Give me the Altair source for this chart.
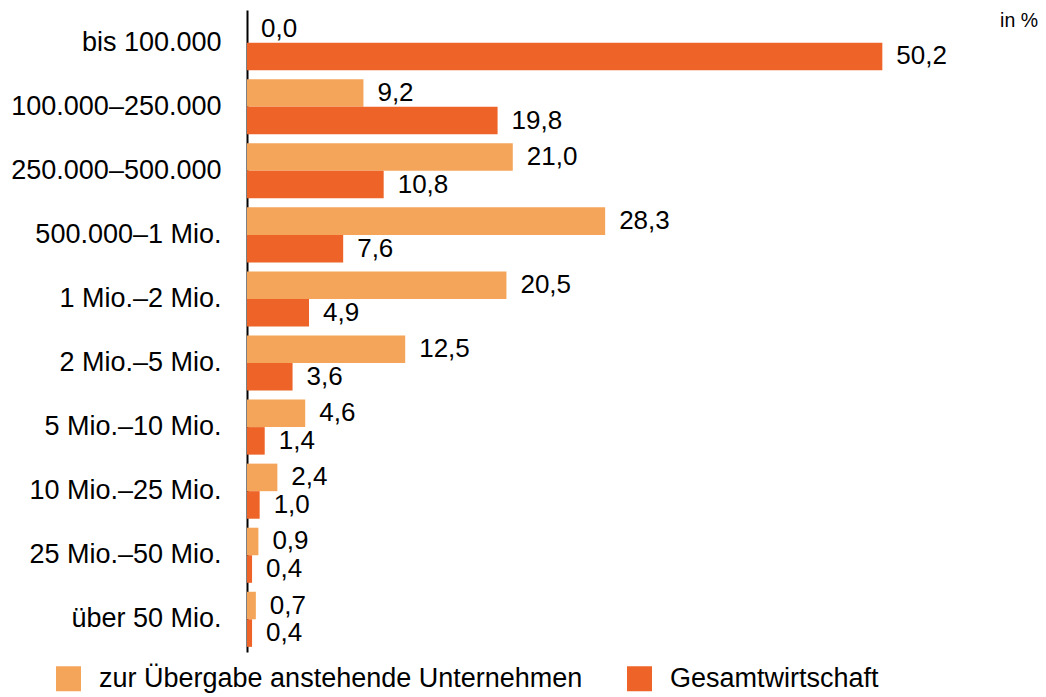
import altair as alt
import pandas as pd

categories = ["bis 100.000", "100.000–250.000", "250.000–500.000", "500.000–1 Mio.",
              "1 Mio.–2 Mio.", "2 Mio.–5 Mio.", "5 Mio.–10 Mio.", "10 Mio.–25 Mio.",
              "25 Mio.–50 Mio.", "über 50 Mio."]
series = ["zur Übergabe anstehende Unternehmen", "Gesamtwirtschaft"]
uebergabe = [0.0, 9.2, 21.0, 28.3, 20.5, 12.5, 4.6, 2.4, 0.9, 0.7]
gesamt = [50.2, 19.8, 10.8, 7.6, 4.9, 3.6, 1.4, 1.0, 0.4, 0.4]
colors = ["#F4A55A", "#EE6428"]

rows = []
for c, a, b in zip(categories, uebergabe, gesamt):
    rows.append({"cat": c, "series": series[0], "value": a, "label": f"{a:.1f}".replace(".", ",")})
    rows.append({"cat": c, "series": series[1], "value": b, "label": f"{b:.1f}".replace(".", ",")})
df = pd.DataFrame(rows)

FONT = "Liberation Sans"
W, H = 791, 642

xscale = alt.Scale(domain=[0, 62.5], nice=False, zero=True)
yscale = alt.Scale(domain=categories, paddingInner=0.14, paddingOuter=0.08)

base = alt.Chart(df).encode(
    y=alt.Y("cat:N", scale=yscale, sort=categories,
            axis=alt.Axis(title=None, ticks=False, grid=False, labelFontSize=27,
                          labelFont=FONT, labelColor="black", labelPadding=26,
                          labelLimit=0, domainColor="black", domainWidth=2)),
    yOffset=alt.YOffset("series:N", sort=series, scale=alt.Scale(domain=series)),
)

bars = base.mark_bar(cornerRadius=0).encode(
    x=alt.X("value:Q", scale=xscale, axis=None),
    color=alt.Color("series:N", sort=series,
                    scale=alt.Scale(domain=series, range=colors),
                    legend=alt.Legend(title=None, orient="none", legendX=-192, legendY=655,
                                      direction="horizontal", symbolType="square",
                                      symbolSize=625, symbolStrokeWidth=0,
                                      labelFontSize=27, labelFont=FONT, labelColor="black",
                                      labelOffset=17, columnPadding=43,
                                      labelLimit=0)),
)

labels = base.mark_text(align="left", baseline="middle", dx=14, fontSize=26,
                        font=FONT, color="black").encode(
    x=alt.X("value:Q", scale=xscale),
    text="label:N",
)

unit_df = pd.DataFrame({"cat": [categories[0]], "value": [62.5], "txt": ["in %"]})
unit = alt.Chart(unit_df).mark_text(align="right", baseline="middle", dy=-22,
                                    fontSize=19.5, font=FONT, color="black").encode(
    x=alt.X("value:Q", scale=xscale),
    y=alt.Y("cat:N", scale=yscale, sort=categories),
    text="txt:N",
)

chart = alt.layer(bars, labels, unit).properties(
    width=W, height=H,
    background="white",
    autosize=alt.AutoSizeParams(type="none"),
    padding={"left": 239, "top": 2, "right": 0, "bottom": 45},
).configure_view(stroke=None)

chart.save("out.html", embed_options={"renderer": "svg", "actions": False})
